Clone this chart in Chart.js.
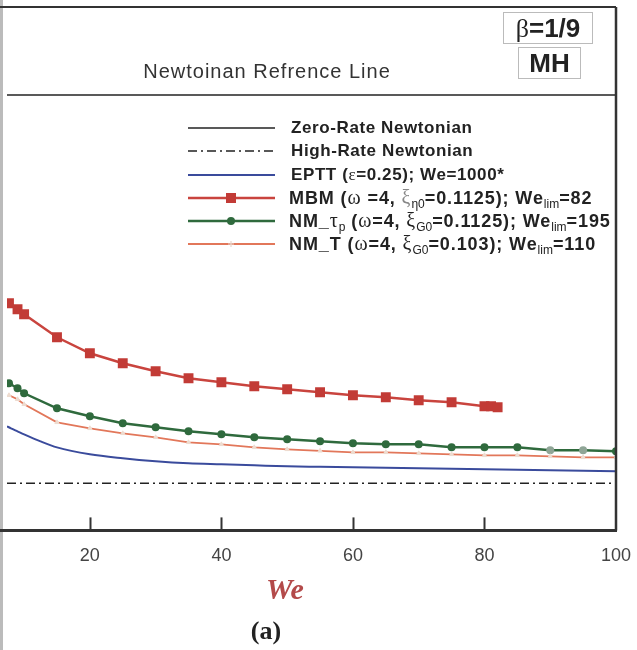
<!DOCTYPE html>
<html>
<head>
<meta charset="utf-8">
<script src="https://cdn.jsdelivr.net/npm/chart.js@4.4.0/dist/chart.umd.min.js"></script>
<style>
html, body { margin: 0; padding: 0; background: #fff; }
#wrap { position: relative; width: 637px; height: 650px; overflow: hidden; font-family: "Liberation Sans", Arial, sans-serif; color: #222; }
#chart { position: absolute; left: 0; top: 0; }
.t { position: absolute; white-space: nowrap; }
.gr { font-family: "Liberation Serif", "DejaVu Serif", serif; font-weight: normal; }
.box { border: 1px solid #bbb; text-align: center; font-weight: bold; font-size: 26px; line-height: 30px; }
#legend { position: absolute; left: 188px; top: 116px; }
.row { height: 23.3px; line-height: 23.3px; position: relative; }
.row svg { position: absolute; left: 0; top: 0; }
.row span.txt { position: absolute; left: 103px; top: 0; font-weight: bold; font-size: 17px; letter-spacing: 0.6px; white-space: nowrap; }
.row span.txt.wide { left: 101px; font-size: 18px; letter-spacing: 0.9px; }
.wide .gr { font-size: 20px; }
sub { font-size: 12px; vertical-align: -4px; line-height: 0; letter-spacing: 0; font-weight: normal; }
</style>
</head>
<body>
<div id="wrap">
  <canvas id="chart" width="637" height="650"></canvas>

  <div class="t" style="left:267px; top:60px; transform:translateX(-50%); font-size:20px; letter-spacing:1px; color:#333;">Newtoinan Refrence Line</div>
  <div class="t box" style="left:503px; top:12px; width:88px; height:30px;"><span class="gr">β</span>=1/9</div>
  <div class="t box" style="left:518px; top:47px; width:61px; height:30px;">MH</div>

  <div id="legend">
    <div class="row"><svg width="88" height="23"><line x1="0" y1="12" x2="87" y2="12" stroke="#222" stroke-width="1.5"/></svg><span class="txt">Zero-Rate Newtonian</span></div>
    <div class="row"><svg width="88" height="23"><line x1="0" y1="12" x2="87" y2="12" stroke="#222" stroke-width="1.5" stroke-dasharray="9,4,2,4"/></svg><span class="txt">High-Rate Newtonian</span></div>
    <div class="row"><svg width="88" height="23"><line x1="0" y1="12" x2="87" y2="12" stroke="#3a4b9c" stroke-width="2"/></svg><span class="txt">EPTT (<span class="gr">ε</span>=0.25); We=1000*</span></div>
    <div class="row"><svg width="88" height="23"><line x1="0" y1="12" x2="87" y2="12" stroke="#c9443e" stroke-width="2.5"/><rect x="38" y="7" width="10" height="10" fill="#c23b36"/></svg><span class="txt wide">MBM (<span class="gr">ω</span> =4, <span class="gr" style="color:#888">ξ</span><sub>η0</sub>=0.1125); We<sub>lim</sub>=82</span></div>
    <div class="row"><svg width="88" height="23"><line x1="0" y1="12" x2="87" y2="12" stroke="#2f6a3d" stroke-width="2.5"/><circle cx="43" cy="12" r="4" fill="#2f6a3d"/></svg><span class="txt wide">NM_<span class="gr">τ</span><sub>p</sub> (<span class="gr">ω</span>=4, <span class="gr">ξ</span><sub>G0</sub>=0.1125); We<sub>lim</sub>=195</span></div>
    <div class="row"><svg width="88" height="23"><line x1="0" y1="12" x2="87" y2="12" stroke="#e2775a" stroke-width="1.8"/><path d="M43 9 L43 15 M40 12 L46 12" stroke="#e8d6cc" stroke-width="1.2"/></svg><span class="txt wide">NM_T (<span class="gr">ω</span>=4, <span class="gr">ξ</span><sub>G0</sub>=0.103); We<sub>lim</sub>=110</span></div>
  </div>

  <div class="t" style="left:285px; top:572px; transform:translateX(-50%); font-family:'Liberation Serif',serif; font-style:italic; font-weight:bold; font-size:30px; color:#b34a4a;">We</div>
  <div class="t" style="left:266px; top:616px; transform:translateX(-50%); font-family:'Liberation Serif',serif; font-weight:bold; font-size:26px; color:#222;">(a)</div>
</div>

<script>
// values (y is in arbitrary units, axis not shown)
const xTicks = [20, 40, 60, 80, 100];

const weRef = [7.4, 100];
const zeroRate = [4.35, 4.35];
const highRate = [0.47, 0.47];

const weEPTT = [7.4, 8, 9, 10, 12.5, 15, 20, 25, 30, 35, 40, 45, 50, 55, 60, 70, 80, 90, 100];
const eptt = [1.04, 1.02, 0.99, 0.96, 0.89, 0.83, 0.76, 0.72, 0.69, 0.67, 0.66, 0.65, 0.64, 0.635, 0.63, 0.62, 0.61, 0.60, 0.59];

const weMBM = [7.7, 9, 10, 15, 20, 25, 30, 35, 40, 45, 50, 55, 60, 65, 70, 75, 80, 81, 82];
const mbm = [2.27, 2.21, 2.16, 1.93, 1.77, 1.67, 1.59, 1.52, 1.48, 1.44, 1.41, 1.38, 1.35, 1.33, 1.30, 1.28, 1.24, 1.24, 1.23];

const weNM = [7.7, 9, 10, 15, 20, 25, 30, 35, 40, 45, 50, 55, 60, 65, 70, 75, 80, 85, 90, 95, 100];
const nmTau = [1.47, 1.42, 1.37, 1.22, 1.14, 1.07, 1.03, 0.99, 0.96, 0.93, 0.91, 0.89, 0.87, 0.86, 0.86, 0.83, 0.83, 0.83, 0.80, 0.80, 0.79];
const nmT = [1.35, 1.31, 1.26, 1.08, 1.02, 0.97, 0.93, 0.88, 0.86, 0.83, 0.81, 0.795, 0.78, 0.78, 0.77, 0.76, 0.75, 0.75, 0.74, 0.73, 0.73];

const pts = (xs, ys) => xs.map((x, i) => ({ x: x, y: ys[i] }));

// frame, inward ticks
const framePlugin = {
    id: 'frame',
    afterDraw(chart) {
        const ctx = chart.ctx;
        const a = chart.chartArea;
        const xs = chart.scales.x;
        ctx.save();
        ctx.strokeStyle = '#bbb';
        ctx.lineWidth = 3;
        ctx.beginPath(); ctx.moveTo(1.5, 0); ctx.lineTo(1.5, 650); ctx.stroke();
        ctx.strokeStyle = '#333';
        ctx.lineWidth = 2;
        ctx.beginPath(); ctx.moveTo(0, a.top); ctx.lineTo(a.right, a.top); ctx.stroke();
        ctx.lineWidth = 2.5;
        ctx.beginPath(); ctx.moveTo(a.right, a.top); ctx.lineTo(a.right, a.bottom); ctx.stroke();
        ctx.lineWidth = 3;
        ctx.beginPath(); ctx.moveTo(0, a.bottom); ctx.lineTo(a.right + 1, a.bottom); ctx.stroke();
        ctx.lineWidth = 2;
        xTicks.slice(0, -1).forEach(v => {
            const px = Math.round(xs.getPixelForValue(v)) + 0.5;
            ctx.beginPath(); ctx.moveTo(px, a.bottom); ctx.lineTo(px, a.bottom - 13); ctx.stroke();
        });
        ctx.restore();
    }
};

const chart = new Chart(document.getElementById('chart').getContext('2d'), {
    type: 'line',
    data: {
        datasets: [
            { label: 'Zero-Rate Newtonian', data: pts(weRef, zeroRate), borderColor: '#222', borderWidth: 1.5, pointRadius: 0 },
            { label: 'High-Rate Newtonian', data: pts(weRef, highRate), borderColor: '#222', borderWidth: 1.5, borderDash: [9, 4, 2, 4], pointRadius: 0 },
            { label: 'EPTT', data: pts(weEPTT, eptt), borderColor: '#3a4b9c', borderWidth: 2, pointRadius: 0, cubicInterpolationMode: 'monotone' },
            { label: 'NM_T', data: pts(weNM, nmT), borderColor: '#e2775a', borderWidth: 1.8, pointStyle: 'triangle', pointRadius: 2.5, pointBackgroundColor: '#eedcd0', pointBorderColor: '#eedcd0', pointBorderWidth: 1 },
            { label: 'NM_tau', data: pts(weNM, nmTau), borderColor: '#2f6a3d', borderWidth: 2.5, pointStyle: 'circle', pointRadius: 4,
              pointBackgroundColor: c => (c.raw && c.raw.x >= 90 && c.raw.x < 100) ? '#8fa596' : '#2f6a3d',
              pointBorderColor: c => (c.raw && c.raw.x >= 90 && c.raw.x < 100) ? '#8fa596' : '#2f6a3d', pointBorderWidth: 0 },
            { label: 'MBM', data: pts(weMBM, mbm), borderColor: '#c9443e', borderWidth: 2.5, pointStyle: 'rect', pointRadius: 7, pointBackgroundColor: '#c23b36', pointBorderColor: '#c23b36', pointBorderWidth: 0 }
        ]
    },
    options: {
        responsive: false,
        animation: false,
        layout: { padding: { left: 3, right: 21, top: 7, bottom: 68 } },
        scales: {
            x: {
                type: 'linear',
                min: 7.4,
                max: 100,
                afterBuildTicks: s => { s.ticks = xTicks.map(v => ({ value: v })); },
                afterFit: s => { s.paddingLeft = 0; s.paddingRight = 0; },
                grid: { display: false, drawTicks: false },
                border: { display: false },
                ticks: { padding: 15, color: '#444', font: { family: 'Liberation Sans', size: 18 }, maxRotation: 0 }
            },
            y: { display: false, min: 0, max: 5.23 }
        },
        plugins: { legend: { display: false }, tooltip: { enabled: false } }
    },
    plugins: [framePlugin]
});
</script>
</body>
</html>
